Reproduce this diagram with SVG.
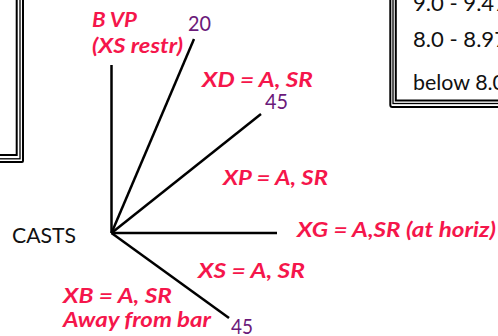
<svg xmlns="http://www.w3.org/2000/svg" width="498" height="336" viewBox="0 0 498 336">
<style>
.red{font-family:"Lato","Open Sans","Liberation Sans",sans-serif;font-weight:bold;font-style:italic;font-size:20.5px;fill:#f5164b}
.num{font-family:"Lato","Open Sans","Liberation Sans",sans-serif;font-size:21px;fill:#6b1a7a}
.blk{font-family:"Lato","Open Sans","Liberation Sans",sans-serif;font-size:21px;fill:#111}
.ln{stroke:#000;stroke-width:2.5;fill:none;stroke-linecap:butt}
.bthick{stroke:#000;stroke-width:2;fill:none}
.bthin{stroke:#000;stroke-width:1.3;fill:none}
</style>
<rect width="498" height="336" fill="#fff"/>
<g id="left-box">
<rect class="bthick" x="-20" y="-20" width="36.7" height="175"/>
<rect class="bthin" x="-20" y="-20" width="40" height="178.8"/>
<rect class="bthick" x="-20" y="-20" width="43" height="182" rx="1"/>
</g>
<g id="legend-box">
<rect class="bthick" x="395.8" y="-20" width="130" height="120.5"/>
<rect class="bthin" x="393" y="-20" width="130" height="123.5"/>
<rect class="bthick" x="390.3" y="-20" width="130" height="127" rx="2"/>
<text class="blk" x="413" y="10.5" textLength="94" lengthAdjust="spacingAndGlyphs">9.0 - 9.47</text>
<text class="blk" x="413" y="46.5" textLength="94" lengthAdjust="spacingAndGlyphs">8.0 - 8.97</text>
<text class="blk" x="413" y="90" textLength="92" lengthAdjust="spacingAndGlyphs">below 8.0</text>
</g>
<g id="connectors">
<line class="ln" x1="111.5" y1="233" x2="111.5" y2="65"/>
<line class="ln" x1="111.5" y1="233" x2="194" y2="39"/>
<line class="ln" x1="111.5" y1="233" x2="261" y2="114"/>
<line class="ln" x1="111.5" y1="233" x2="277" y2="233"/>
<line class="ln" x1="111.5" y1="233" x2="229" y2="318"/>
</g>
<g id="casts"><text class="blk" x="12" y="243" textLength="64" lengthAdjust="spacingAndGlyphs">CASTS</text></g>
<g id="bvp">
<text class="red" x="92" y="27" textLength="45" lengthAdjust="spacingAndGlyphs">B VP</text>
<text class="red" x="92" y="53" textLength="91" lengthAdjust="spacingAndGlyphs">(XS restr)</text>
</g>
<g id="n20"><text class="num" x="188" y="31" textLength="23" lengthAdjust="spacingAndGlyphs">20</text></g>
<g id="xd"><text class="red" x="202" y="87" textLength="111" lengthAdjust="spacingAndGlyphs">XD = A, SR</text></g>
<g id="n45a"><text class="num" x="265" y="109" textLength="23" lengthAdjust="spacingAndGlyphs">45</text></g>
<g id="xp"><text class="red" x="223" y="185" textLength="105" lengthAdjust="spacingAndGlyphs">XP = A, SR</text></g>
<g id="xg"><text class="red" x="297" y="237" textLength="199" lengthAdjust="spacingAndGlyphs">XG = A,SR (at horiz)</text></g>
<g id="xs"><text class="red" x="198" y="278" textLength="107" lengthAdjust="spacingAndGlyphs">XS = A, SR</text></g>
<g id="xb">
<text class="red" x="63" y="303" textLength="109" lengthAdjust="spacingAndGlyphs">XB = A, SR</text>
<text class="red" x="63" y="327" textLength="148" lengthAdjust="spacingAndGlyphs">Away from bar</text>
</g>
<g id="n45b"><text class="num" x="231" y="333.5" textLength="22" lengthAdjust="spacingAndGlyphs">45</text></g>
</svg>
